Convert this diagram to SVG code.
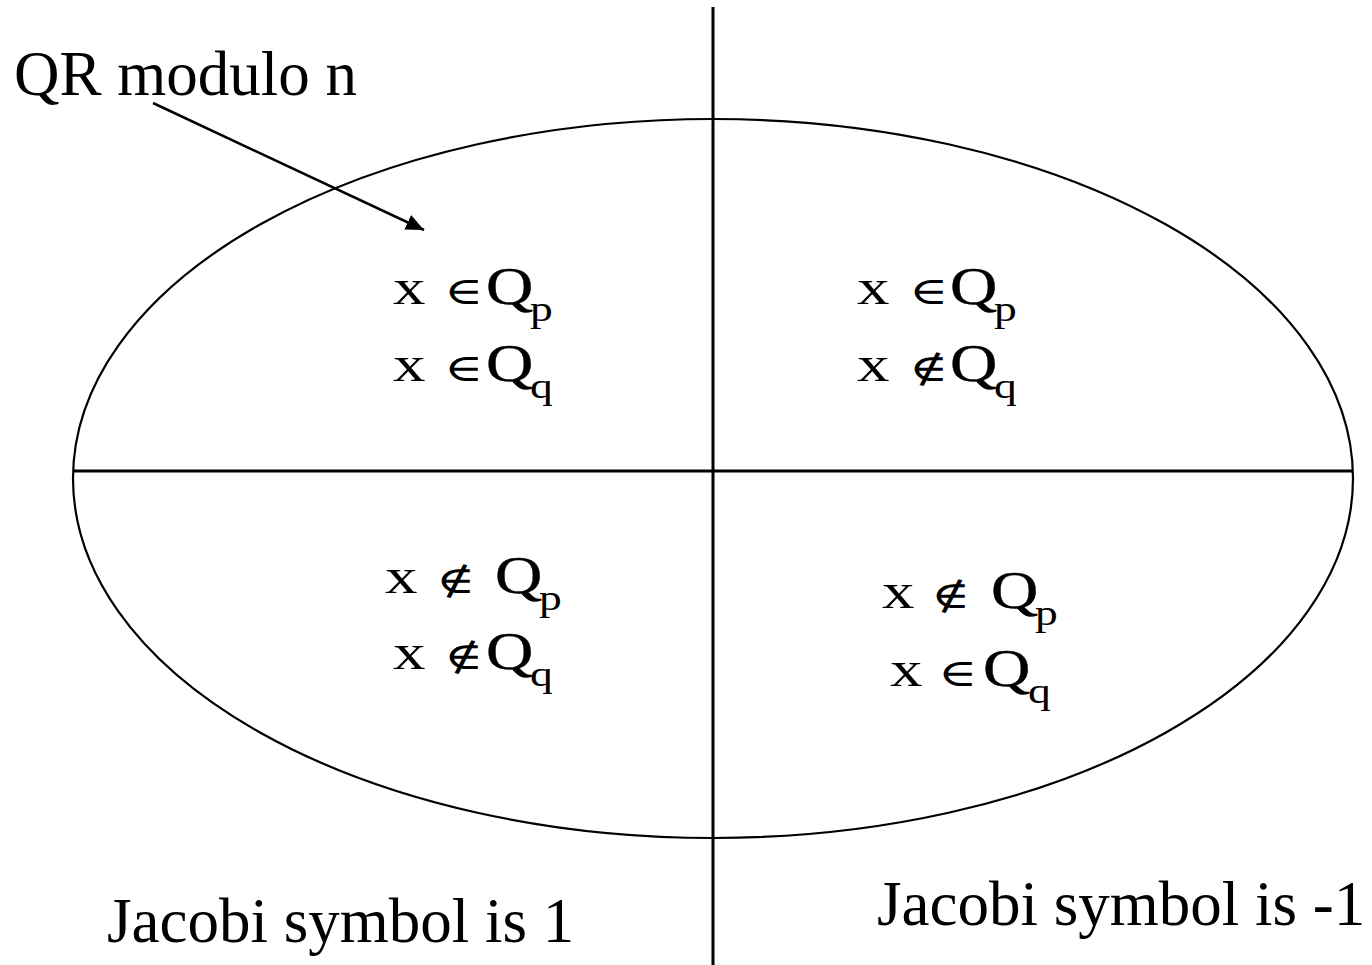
<svg xmlns="http://www.w3.org/2000/svg" width="1372" height="965" viewBox="0 0 1372 965">
<style>
.ln{stroke:#000;stroke-width:3;fill:none}
.el{stroke:#000;stroke-width:2.2;fill:none}
.lbl{font-family:"Liberation Serif","DejaVu Serif",serif;font-size:63px;fill:#000}
.m{font-family:"Liberation Serif","DejaVu Serif",serif;font-size:50px;fill:#000}
.q{font-family:"Liberation Serif","DejaVu Serif",serif;font-size:52px;fill:#000;stroke:#000;stroke-width:0.4}
.s{font-family:"Liberation Serif","DejaVu Serif",serif;font-size:35px;fill:#000}
.op{font-family:"DejaVu Serif","Liberation Serif",serif;font-size:38px;fill:#000}
</style>
<defs>
<marker id="ah" markerUnits="userSpaceOnUse" markerWidth="20" markerHeight="18" refX="18" refY="8" orient="auto">
<path d="M0,0 L18,8 L0,16 z" fill="#000"/>
</marker>
</defs>
<rect width="1372" height="965" fill="#fff"/>
<g id="frame">
<ellipse class="el" cx="713" cy="478.5" rx="640" ry="359.5"/>
<line class="ln" x1="713" y1="7" x2="713" y2="965"/>
<line class="ln" x1="73" y1="471" x2="1353" y2="471"/>
</g>
<g id="label-qr"><text class="lbl" x="14" y="95">QR modulo n</text></g>
<g id="label-j1"><text class="lbl" x="107" y="942">Jacobi symbol is 1</text></g>
<g id="label-jm1"><text class="lbl" x="877" y="925">Jacobi symbol is -1</text></g>
<g id="connectors">
<line x1="153" y1="103" x2="424" y2="230" stroke="#000" stroke-width="2.5" marker-end="url(#ah)"/>
</g>
<g id="q-top-left">
<text class="m" transform="translate(393,304) scale(1.3,1)">x</text>
<text class="op" transform="translate(444,304) scale(1.4,1)">∈</text>
<text class="q" transform="translate(486,304) scale(1.26,1)">Q</text>
<text class="s" transform="translate(530,321) scale(1.3,1)">p</text>
<text class="m" transform="translate(393,381) scale(1.3,1)">x</text>
<text class="op" transform="translate(444,381) scale(1.4,1)">∈</text>
<text class="q" transform="translate(486,381) scale(1.26,1)">Q</text>
<text class="s" transform="translate(530,398) scale(1.3,1)">q</text>
</g>
<g id="q-top-right">
<text class="m" transform="translate(857,304) scale(1.3,1)">x</text>
<text class="op" transform="translate(909,304) scale(1.4,1)">∈</text>
<text class="q" transform="translate(950,304) scale(1.26,1)">Q</text>
<text class="s" transform="translate(994,321) scale(1.3,1)">p</text>
<text class="m" transform="translate(857,381) scale(1.3,1)">x</text>
<text class="op" transform="translate(909,381) scale(1.4,1)">∉</text>
<text class="q" transform="translate(950,381) scale(1.26,1)">Q</text>
<text class="s" transform="translate(994,398) scale(1.3,1)">q</text>
</g>
<g id="q-bottom-left">
<text class="m" transform="translate(385,593) scale(1.3,1)">x</text>
<text class="op" transform="translate(436,593) scale(1.4,1)">∉</text>
<text class="q" transform="translate(495,593) scale(1.26,1)">Q</text>
<text class="s" transform="translate(539,610) scale(1.3,1)">p</text>
<text class="m" transform="translate(393,669) scale(1.3,1)">x</text>
<text class="op" transform="translate(444,669) scale(1.4,1)">∉</text>
<text class="q" transform="translate(486,669) scale(1.26,1)">Q</text>
<text class="s" transform="translate(530,686) scale(1.3,1)">q</text>
</g>
<g id="q-bottom-right">
<text class="m" transform="translate(882,608) scale(1.3,1)">x</text>
<text class="op" transform="translate(931,608) scale(1.4,1)">∉</text>
<text class="q" transform="translate(991,608) scale(1.26,1)">Q</text>
<text class="s" transform="translate(1035,625) scale(1.3,1)">p</text>
<text class="m" transform="translate(890,686) scale(1.3,1)">x</text>
<text class="op" transform="translate(938,686) scale(1.4,1)">∈</text>
<text class="q" transform="translate(983,686) scale(1.26,1)">Q</text>
<text class="s" transform="translate(1028,703) scale(1.3,1)">q</text>
</g>
</svg>
